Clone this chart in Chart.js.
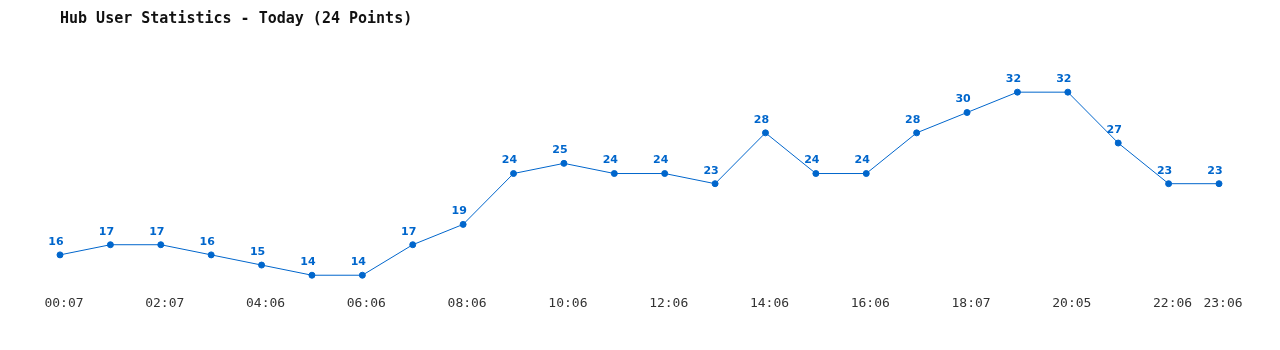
<!DOCTYPE html>
<html>
<head>
<meta charset="utf-8">
<script src="https://cdn.jsdelivr.net/npm/chart.js@4"></script>
<style>
  html, body { margin: 0; padding: 0; background: #fff; }
  #wrap { width: 1280px; height: 350px; }
</style>
</head>
<body>
<div id="wrap"><canvas id="hubChart" width="1280" height="350"></canvas></div>
<script>
const chartTitle = 'Hub User Statistics - Today (24 Points)';
const timeLabels = ['00:07','01:07','02:07','03:06','04:06','05:06','06:06','07:06',
  '08:06','09:06','10:06','11:06','12:06','13:06','14:06','15:06',
  '16:06','17:07','18:07','19:06','20:05','21:06','22:06','23:06'];
const userCounts = [16,17,17,16,15,14,14,17,19,24,25,24,24,23,28,24,24,28,30,32,32,27,23,23];

const blue = '#0066cc';

// draws the value above each point
const valueLabels = {
  id: 'valueLabels',
  afterDatasetsDraw(chart) {
    const ctx = chart.ctx;
    const meta = chart.getDatasetMeta(0);
    ctx.save();
    ctx.font = 'bold 11px "DejaVu Sans", Verdana, sans-serif';
    ctx.fillStyle = blue;
    ctx.textAlign = 'center';
    ctx.textBaseline = 'middle';
    meta.data.forEach((pt, i) => {
      ctx.fillText(String(userCounts[i]), pt.x - 4, pt.y - 13);
    });
    ctx.restore();
  }
};

new Chart(document.getElementById('hubChart').getContext('2d'), {
  type: 'line',
  data: {
    labels: timeLabels,
    datasets: [{
      data: userCounts,
      borderColor: blue,
      borderWidth: 1,
      backgroundColor: blue,
      pointBackgroundColor: blue,
      pointBorderColor: blue,
      pointRadius: 3,
      pointBorderWidth: 1,
      tension: 0,
      fill: false
    }]
  },
  options: {
    responsive: false,
    animation: false,
    layout: { padding: { left: 60, right: 61, top: 0, bottom: 29 } },
    plugins: {
      legend: { display: false },
      tooltip: { enabled: false },
      title: {
        display: true,
        text: chartTitle,
        align: 'start',
        color: '#111',
        font: { family: '"DejaVu Sans Mono", monospace', size: 15, weight: 'bold' },
        padding: { top: 10, bottom: 54 }
      }
    },
    scales: {
      x: {
        offset: false,
        grid: { display: false, drawTicks: false },
        border: { display: false },
        ticks: {
          autoSkip: false,
          maxRotation: 0,
          padding: 10,
          labelOffset: 4,
          color: '#333',
          font: { family: '"DejaVu Sans Mono", monospace', size: 13 },
          callback: function(val, i) {
            return (i % 2 === 0 || i === timeLabels.length - 1) ? timeLabels[i] : '';
          }
        }
      },
      y: {
        display: false,
        min: 13,
        max: 33
      }
    }
  },
  plugins: [valueLabels]
});
</script>
</body>
</html>
